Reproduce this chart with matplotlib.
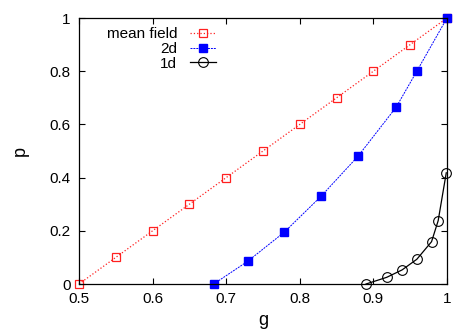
import matplotlib
matplotlib.use("Agg")
import matplotlib.pyplot as plt

plt.rcParams['font.family'] = ['Liberation Sans', 'DejaVu Sans']

g_mf = [0.5, 0.55, 0.6, 0.65, 0.7, 0.75, 0.8, 0.85, 0.9, 0.95, 1.0]
p_mf = [0.0, 0.1, 0.2, 0.3, 0.4, 0.5, 0.6, 0.7, 0.8, 0.9, 1.0]

g_2d = [0.683, 0.729, 0.779, 0.829, 0.879, 0.931, 0.959, 1.0]
p_2d = [0.0, 0.085, 0.195, 0.33, 0.48, 0.665, 0.80, 1.0]

g_1d = [0.89, 0.918, 0.939, 0.959, 0.979, 0.988, 0.999]
p_1d = [0.0, 0.025, 0.053, 0.093, 0.159, 0.238, 0.418]

fig = plt.figure(figsize=(4.74, 3.32), dpi=100)
ax = fig.add_axes([79/474, 48/332, 368/474, 266/332])

ax.plot(g_mf, p_mf, color='#ff2020', ls=':', lw=0.9, marker='s', ms=6,
        mfc='none', mec='#ff2020', mew=0.9, label='mean field', clip_on=False)
ax.plot(g_2d, p_2d, color='#0000ff', ls=(0, (2, 1)), lw=0.7, marker='s', ms=5.5,
        mfc='#0000ff', mec='#0000ff', label='2d', clip_on=False)
ax.plot(g_1d, p_1d, color='black', ls='-', lw=0.9, marker='o', ms=7,
        mfc='none', mec='black', mew=0.8, label='1d', clip_on=False)

ax.set_xlim(0.5, 1.0)
ax.set_ylim(0, 1.0)
ax.set_xticks([0.5, 0.6, 0.7, 0.8, 0.9, 1.0])
ax.set_xticklabels(['0.5', '0.6', '0.7', '0.8', '0.9', '1'])
ax.set_yticks([0, 0.2, 0.4, 0.6, 0.8, 1.0])
ax.set_yticklabels(['0', '0.2', '0.4', '0.6', '0.8', '1'])
ax.tick_params(direction='in', top=True, right=True, labelsize=11, length=4, width=0.8, pad=6)
for s in ax.spines.values():
    s.set_linewidth(0.9)

ax.set_xlabel('g', fontsize=13, labelpad=4)
ax.set_ylabel('p', fontsize=13, labelpad=15)

leg = ax.legend(loc='upper right', bbox_to_anchor=(0.398, 1.0), frameon=False,
                markerfirst=False, fontsize=11, handlelength=1.75,
                labelspacing=0.05, handletextpad=0.8, borderaxespad=0.2)

fig.savefig('out.png', dpi=100)
